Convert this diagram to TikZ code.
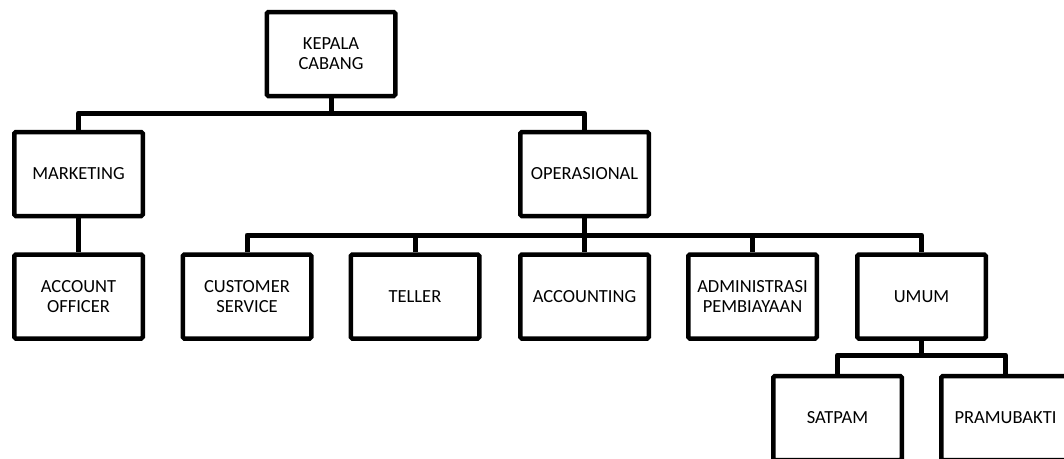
\documentclass[tikz,border=0pt]{standalone}
\usepackage{fontspec}
\setmainfont{Carlito}
\begin{document}
\begin{tikzpicture}[x=1pt,y=-1pt,
  orgbox/.style={draw=black, line width=4.5pt, rounded corners=1.5pt, fill=white,
    minimum width=128.5pt, minimum height=84pt, inner sep=0pt, align=center,
    font=\fontsize{18.5}{20}\selectfont},
  conn/.style={draw=black, line width=5pt, line join=round, line cap=butt}]
\useasboundingbox (0,0) rectangle (1064,458);
\clip (0,0) rectangle (1064,458);
\coordinate (busA) at (0,113);
\coordinate (busB) at (0,235);
\coordinate (busC) at (0,355);
\node[orgbox] (kepala) at (331,54) {KEPALA\\CABANG};
\node[orgbox] (marketing) at (78.5,174) {MARKETING};
\node[orgbox] (operasional) at (584.5,174) {OPERASIONAL};
\node[orgbox] (account) at (78.5,296.5) {ACCOUNT\\OFFICER};
\node[orgbox] (cs) at (247,296.5) {CUSTOMER\\SERVICE};
\node[orgbox] (teller) at (415,296.5) {TELLER};
\node[orgbox] (accounting) at (584.5,296.5) {ACCOUNTING};
\node[orgbox] (admin) at (752.5,296.5) {ADMINISTRASI\\PEMBIAYAAN};
\node[orgbox] (umum) at (921.5,296.5) {UMUM};
\node[orgbox] (satpam) at (837.5,418) {SATPAM};
\node[orgbox] (pramubakti) at (1005.5,418) {PRAMUBAKTI};
\draw[conn] (kepala.south) -- (kepala.south |- busA);
\draw[conn] (marketing.north) |- (operasional.north |- busA) -- (operasional.north);
\draw[conn] (marketing.south) -- (account.north);
\draw[conn] (operasional.south) -- (accounting.north);
\draw[conn] (cs.north) |- (umum.north |- busB) -- (umum.north);
\draw[conn] (teller.north) -- (teller.north |- busB);
\draw[conn] (admin.north) -- (admin.north |- busB);
\draw[conn] (umum.south) -- (umum.south |- busC);
\draw[conn] (satpam.north) |- (pramubakti.north |- busC) -- (pramubakti.north);
\end{tikzpicture}
\end{document}
